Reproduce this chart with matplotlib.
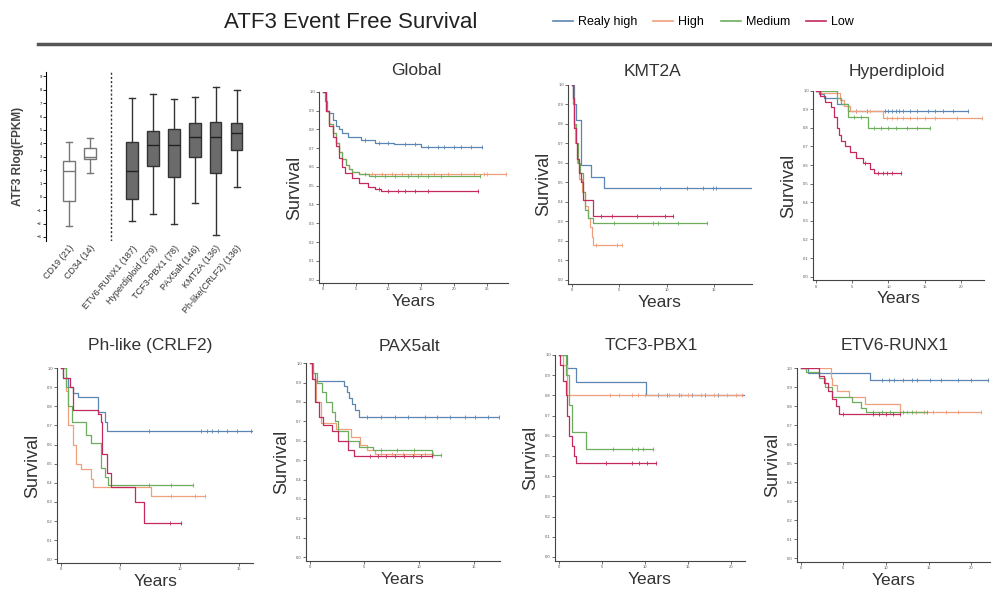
import numpy as np
import matplotlib
matplotlib.use('Agg')
import matplotlib.pyplot as plt
from matplotlib.lines import Line2D

plt.rcParams['font.family'] = ['Liberation Sans', 'DejaVu Sans']

# ==========================================
# Data: box plot of ATF3 expression
# ==========================================
box_labels = ['CD19 (21)', 'CD34 (14)', 'ETV6-RUNX1 (187)', 'Hyperdiploid (279)',
              'TCF3-PBX1 (78)', 'PAX5alt (146)', 'KMT2A (136)', 'Ph-like(CRLF2) (136)']
box_pos = [1, 2, 4, 5, 6, 7, 8, 9]
box_whislo = [-2.15, 1.8, -1.8, -1.3, -2.05, -0.5, -2.85, 0.7]
box_q1 = [-0.3, 2.8, -0.2, 2.3, 1.5, 3.0, 1.75, 3.5]
box_med = [1.95, 3.0, 1.95, 3.9, 3.9, 4.45, 4.45, 4.8]
box_q3 = [2.7, 3.65, 4.1, 4.9, 5.05, 5.5, 5.6, 5.5]
box_whishi = [4.1, 4.4, 7.4, 7.7, 7.35, 7.5, 8.2, 8.0]

# ==========================================
# Data: Kaplan-Meier step curves (time in years, survival)
# ==========================================
group_names = ['Realy high', 'High', 'Medium', 'Low']
group_colors = ['#5b86b3', '#ef9f7c', '#6cae5e', '#c52a5c']

GLOBAL_VHIGH = [(0, 1.0), (0.3, 0.95), (0.6, 0.9), (0.9, 0.885), (1.5, 0.85), (2.0, 0.82), (2.5, 0.8),
                (3.0, 0.78), (3.9, 0.76), (5.9, 0.745), (8, 0.73), (10.9, 0.72), (14.9, 0.705), (24.2, 0.705)]
GLOBAL_HIGH = [(0, 1.0), (0.5, 0.9), (1.0, 0.83), (1.5, 0.78), (2.0, 0.73), (2.5, 0.68), (3.0, 0.64),
               (3.5, 0.61), (4.0, 0.59), (4.5, 0.575), (5.5, 0.565), (7, 0.56), (27.9, 0.56)]
GLOBAL_MED = [(0, 1.0), (0.5, 0.9), (1.0, 0.83), (1.5, 0.78), (2.0, 0.73), (2.5, 0.68), (3.0, 0.64),
              (3.5, 0.61), (4.0, 0.59), (4.5, 0.575), (5.5, 0.56), (7, 0.55), (24.0, 0.55)]
GLOBAL_LOW = [(0, 1.0), (0.5, 0.9), (1.0, 0.82), (1.5, 0.76), (2.0, 0.71), (2.5, 0.65), (3.0, 0.6),
              (3.4, 0.566), (4.4, 0.54), (5.5, 0.515), (6.9, 0.495), (8.0, 0.48), (8.9, 0.47), (23.6, 0.47)]
GLOBAL_CENS = [[6.5, 8.5, 10, 12.5, 14, 16, 17.5, 18.5, 20, 21, 22.5, 24.2],
               [7.5, 9, 10.5, 12, 13.5, 15, 17, 19, 21, 23, 24.5, 25, 27.9],
               [6.5, 8, 9.5, 11, 13, 14.5, 16, 18, 24.0],
               [8.5, 10, 11.5, 12.5, 14, 16, 23.6]]

KMT2A_VHIGH = [(0, 1.0), (0.3, 0.9), (0.5, 0.82), (1.0, 0.59), (2.0, 0.53), (3.4, 0.47), (19.0, 0.47)]
KMT2A_HIGH = [(0, 1.0), (0.1, 0.9), (0.25, 0.8), (0.4, 0.7), (0.6, 0.6), (0.8, 0.52), (1.1, 0.45),
              (1.4, 0.38), (1.7, 0.32), (1.9, 0.27), (2.1, 0.22), (2.2, 0.18), (5.3, 0.18)]
KMT2A_MED = [(0, 1.0), (0.15, 0.9), (0.3, 0.8), (0.5, 0.7), (0.7, 0.6), (0.9, 0.55), (1.2, 0.45),
             (1.4, 0.36), (1.7, 0.32), (2.3, 0.29), (14.3, 0.29)]
KMT2A_LOW = [(0, 1.0), (0.1, 0.93), (0.2, 0.86), (0.3, 0.78), (0.45, 0.7), (0.6, 0.62), (0.8, 0.55),
             (1.0, 0.5), (1.2, 0.41), (2.2, 0.33), (10.7, 0.33)]
KMT2A_CENS = [[9.3, 12.2, 13.8, 14.9, 15.2], [2.6, 4.8, 5.3], [4.5, 8.6, 9.1, 11.2, 14.3],
              [3.1, 4.2, 6.9, 9.8, 10.7]]

HYPER_VHIGH = [(0, 1.0), (0.3, 0.98), (1.0, 0.96), (2.9, 0.93), (4.4, 0.89), (21.0, 0.89)]
HYPER_HIGH = [(0, 1.0), (0.6, 0.99), (3.3, 0.95), (3.8, 0.92), (4.6, 0.89), (9.2, 0.855), (23.0, 0.855)]
HYPER_MED = [(0, 1.0), (2.9, 0.96), (3.4, 0.93), (4.4, 0.86), (7.2, 0.8), (15.7, 0.8)]
HYPER_LOW = [(0, 1.0), (0.5, 0.97), (1.2, 0.94), (2.0, 0.91), (2.5, 0.86), (2.9, 0.8), (3.1, 0.76),
             (3.4, 0.73), (4.0, 0.7), (4.6, 0.67), (5.5, 0.64), (6.4, 0.61), (7.5, 0.58), (8.0, 0.555),
             (11.7, 0.555)]
HYPER_CENS = [[5.5, 7, 9.5, 10, 10.5, 11, 11.5, 12, 13, 14, 15.5, 16.5, 17.5, 19, 21.0],
              [5.5, 7.5, 9.8, 10.5, 11.2, 12, 13, 14, 15, 16.5, 19.5, 23.0],
              [5.2, 6.2, 8, 9, 10, 11, 12.5, 14, 15.7],
              [6.8, 8.5, 9.2, 9.8, 10.5, 11.7]]

PHL_VHIGH = [(0, 1.0), (0.2, 0.95), (0.6, 0.9), (1.0, 0.87), (1.4, 0.85), (3.1, 0.77), (3.7, 0.72),
             (3.9, 0.67), (16.2, 0.67)]
PHL_HIGH = [(0, 1.0), (0.4, 0.88), (0.6, 0.7), (1.0, 0.6), (1.3, 0.5), (1.7, 0.47), (2.5, 0.42),
            (2.7, 0.38), (7.6, 0.33), (12.1, 0.33)]
PHL_MED = [(0, 1.0), (0.4, 0.9), (0.6, 0.8), (0.9, 0.72), (2.1, 0.65), (2.5, 0.61), (3.4, 0.48),
           (3.7, 0.43), (4.0, 0.39), (11.1, 0.39)]
PHL_LOW = [(0, 1.0), (0.2, 0.95), (0.75, 0.9), (1.0, 0.78), (3.1, 0.76), (3.4, 0.72), (3.5, 0.55),
           (3.9, 0.45), (4.2, 0.38), (6.2, 0.3), (7.0, 0.19), (10.1, 0.19)]
PHL_CENS = [[7.4, 11.8, 12.3, 12.7, 13.2, 14.0, 14.8, 16.0], [9.3, 11.3, 12.1], [7.4, 9.3, 11.1],
            [9.2, 10.1]]

PAX5_VHIGH = [(0, 1.0), (0.2, 0.95), (0.5, 0.91), (3.1, 0.88), (3.4, 0.85), (3.6, 0.82), (3.9, 0.79),
              (4.1, 0.76), (4.5, 0.72), (17.4, 0.72)]
PAX5_HIGH = [(0, 1.0), (0.3, 0.92), (0.6, 0.8), (1.0, 0.69), (2.4, 0.66), (3.8, 0.62), (4.6, 0.58),
             (5.2, 0.55), (6.0, 0.53), (11.3, 0.53)]
PAX5_MED = [(0, 1.0), (0.3, 0.95), (0.7, 0.9), (1.1, 0.85), (1.5, 0.8), (2.0, 0.75), (2.3, 0.7),
            (2.6, 0.65), (3.5, 0.6), (4.5, 0.57), (5.8, 0.55), (11.2, 0.525), (12.0, 0.525)]
PAX5_LOW = [(0, 1.0), (0.2, 0.92), (0.5, 0.8), (0.8, 0.72), (1.2, 0.68), (2.0, 0.65), (2.6, 0.6),
            (3.5, 0.55), (4.0, 0.52), (11.2, 0.52)]
PAX5_CENS = [[5.2, 6.5, 7.8, 9.0, 10.5, 11.6, 12.8, 14.2, 15.1, 16.3, 17.3],
             [6.5, 7.5, 8.5, 9.5, 10.5, 11.3], [6.5, 8, 9.5, 11.2, 12.0],
             [5.5, 6.2, 7, 7.8, 8.6, 9.4, 10.2, 11.2]]

TCF3_VHIGH = [(0, 1.0), (1.0, 0.935), (2.0, 0.865), (10.1, 0.8), (21.5, 0.8)]
TCF3_HIGH = [(0, 1.0), (0.5, 0.95), (1.0, 0.8), (21.2, 0.8)]
TCF3_MED = [(0, 1.0), (0.8, 0.9), (1.2, 0.75), (1.5, 0.62), (3.2, 0.535), (10.9, 0.535)]
TCF3_LOW = [(0, 1.0), (0.2, 0.95), (0.5, 0.87), (0.8, 0.8), (1.0, 0.7), (1.2, 0.6), (1.5, 0.55),
            (1.8, 0.5), (2.0, 0.465), (11.3, 0.465)]
TCF3_CENS = [[11.5, 12.5, 14, 15.5, 17, 18.5],
             [6, 7, 8.5, 9.2, 10, 12.8, 14.2, 15, 16.5, 18, 19.5, 20.5, 21.2],
             [6.3, 8.5, 9.2, 9.8, 10.9], [5.5, 8.5, 9.3, 10.2, 11.3]]

ETV6_VHIGH = [(0, 1.0), (0.8, 0.975), (8.1, 0.935), (22.0, 0.935)]
ETV6_HIGH = [(0, 1.0), (3.5, 0.95), (3.7, 0.91), (4.3, 0.88), (5.7, 0.85), (7.5, 0.81), (11.7, 0.77),
             (21.2, 0.77)]
ETV6_MED = [(0, 1.0), (0.6, 0.98), (2.1, 0.95), (2.9, 0.9), (3.7, 0.85), (6.0, 0.82), (7.1, 0.79),
            (7.7, 0.77), (14.8, 0.77)]
ETV6_LOW = [(0, 1.0), (2.1, 0.96), (2.7, 0.92), (3.2, 0.88), (3.7, 0.84), (4.1, 0.8), (4.5, 0.76),
            (11.7, 0.76)]
ETV6_CENS = [[9.5, 10.3, 11, 12, 13, 13.6, 15.2, 16.5, 18.5, 20, 22.0],
             [12.5, 13.5, 14.5, 15.5, 17, 18.5, 21.2], [8.5, 9.5, 10.5, 12, 13, 14.8],
             [5, 8.5, 9.2, 10, 10.8, 11.7]]

# title, curves, censor times, x max, x ticks, axes rect, title position (figure coords)
panels = [
    ('Global', [GLOBAL_VHIGH, GLOBAL_HIGH, GLOBAL_MED, GLOBAL_LOW], GLOBAL_CENS, 28.2, [0, 5, 10, 15, 20, 25],
     [0.3216, 0.519, 0.1905, 0.325], (0.420, 0.880)),
    ('KMT2A', [KMT2A_VHIGH, KMT2A_HIGH, KMT2A_MED, KMT2A_LOW], KMT2A_CENS, 19.0, [0, 5, 10, 15],
     [0.5726, 0.518, 0.1855, 0.338], (0.658, 0.879)),
    ('Hyperdiploid', [HYPER_VHIGH, HYPER_HIGH, HYPER_MED, HYPER_LOW], HYPER_CENS, 23.2, [0, 5, 10, 15, 20],
     [0.8196, 0.524, 0.172, 0.322], (0.904, 0.878)),
    ('Ph-like (CRLF2)', [PHL_VHIGH, PHL_HIGH, PHL_MED, PHL_LOW], PHL_CENS, 16.2, [0, 5, 10, 15],
     [0.0575, 0.044, 0.198, 0.331], (0.151, 0.414)),
    ('PAX5alt', [PAX5_VHIGH, PAX5_HIGH, PAX5_MED, PAX5_LOW], PAX5_CENS, 17.4, [0, 5, 10, 15],
     [0.3085, 0.0475, 0.1955, 0.336], (0.413, 0.411)),
    ('TCF3-PBX1', [TCF3_VHIGH, TCF3_HIGH, TCF3_MED, TCF3_LOW], TCF3_CENS, 21.6, [0, 5, 10, 15, 20],
     [0.5595, 0.0475, 0.1915, 0.35], (0.657, 0.414)),
    ('ETV6-RUNX1', [ETV6_VHIGH, ETV6_HIGH, ETV6_MED, ETV6_LOW], ETV6_CENS, 22.2, [0, 5, 10, 15, 20],
     [0.8034, 0.046, 0.1945, 0.329], (0.902, 0.414)),
]

fig = plt.figure(figsize=(9.92, 5.89), dpi=100)

# ==========================================
# Header: title, legend, separator line
# ==========================================
fig.text(0.354, 0.962, 'ATF3 Event Free Survival', ha='center', va='center', fontsize=16,
         color='#222222')
handles = [Line2D([0], [0], color=c, lw=1.2) for c in group_colors]
fig.legend(handles, group_names, loc='center', bbox_to_anchor=(0.709, 0.962), ncol=4, frameon=False,
           fontsize=9, handlelength=1.6, handletextpad=0.4, columnspacing=1.3)
fig.add_artist(Line2D([0.038, 1.0], [0.925, 0.925], color='#555555', lw=2.5))

# ==========================================
# Box plot panel
# ==========================================
axb = fig.add_axes([0.0464, 0.591, 0.2006, 0.286])
stats = []
for i in range(len(box_labels)):
    stats.append({'med': box_med[i], 'q1': box_q1[i], 'q3': box_q3[i],
                  'whislo': box_whislo[i], 'whishi': box_whishi[i], 'label': box_labels[i]})
bp = axb.bxp(stats, positions=box_pos, widths=0.55, showfliers=False, patch_artist=True)
for i, box in enumerate(bp['boxes']):
    if i < 2:
        box.set_facecolor('white')
        box.set_edgecolor('#777777')
    else:
        box.set_facecolor('#6b6b6b')
        box.set_edgecolor('#333333')
    box.set_linewidth(1.0)
for i, ln in enumerate(bp['medians']):
    ln.set_color('#777777' if i < 2 else '#222222')
    ln.set_linewidth(1.0)
for ln in bp['whiskers'][:4] + bp['caps'][:4]:
    ln.set_color('#777777')
for ln in bp['whiskers'][4:] + bp['caps'][4:]:
    ln.set_color('#333333')
axb.axvline(3, color='#333333', ls=(0, (1.5, 1.5)), lw=1.0)
axb.set_xlim(-0.1, 9.4)
axb.set_ylim(-3.3, 9.3)
axb.set_yticks(range(-3, 10))
axb.tick_params(axis='y', labelsize=3, length=2, width=0.6, pad=1)
axb.tick_params(axis='x', labelsize=6.5, length=0, pad=2)
axb.set_xticks(box_pos)
axb.set_xticklabels(box_labels, rotation=50, ha='right', rotation_mode='anchor', color='#333333')
for s in ['top', 'right', 'bottom']:
    axb.spines[s].set_visible(False)
axb.spines['left'].set_linewidth(0.8)
axb.set_ylabel('ATF3 Rlog(FPKM)', fontsize=8.5, fontweight='bold', color='#444444')
axb.yaxis.set_label_coords(-0.11, 0.5)

# ==========================================
# Kaplan-Meier panels
# ==========================================
for title, curves, cens, xmax, xticks, rect, tpos in panels:
    ax = fig.add_axes(rect)
    for pts, cen, col in zip(curves, cens, group_colors):
        t = np.array([p[0] for p in pts])
        s = np.array([p[1] for p in pts])
        ax.step(t, s, where='post', color=col, lw=0.9)
        ct = np.array(cen)
        idx = np.searchsorted(t, ct, side='right') - 1
        ax.plot(ct, s[idx], ls='none', marker='|', ms=2.5, mew=0.6, color=col)
    ax.set_xlim(-0.02 * xmax, xmax)
    ax.set_ylim(-0.02, 1.0)
    ax.set_yticks(np.arange(0, 1.01, 0.1))
    ax.set_yticklabels(['%.1f' % v for v in np.arange(0, 1.01, 0.1)])
    ax.set_xticks(xticks)
    ax.tick_params(labelsize=3, length=2, width=0.6, pad=1, colors='#555555')
    for s in ['top', 'right']:
        ax.spines[s].set_visible(False)
    for s in ['left', 'bottom']:
        ax.spines[s].set_linewidth(0.8)
        ax.spines[s].set_color('#444444')
    fig.text(tpos[0], tpos[1], title, ha='center', va='center', fontsize=12.5, color='#333333')
    ax.set_ylabel('Survival', fontsize=13, color='#333333', labelpad=4)
    ax.set_xlabel('Years', fontsize=12.5, color='#333333', labelpad=2)

plt.savefig('out.png', dpi=100)
